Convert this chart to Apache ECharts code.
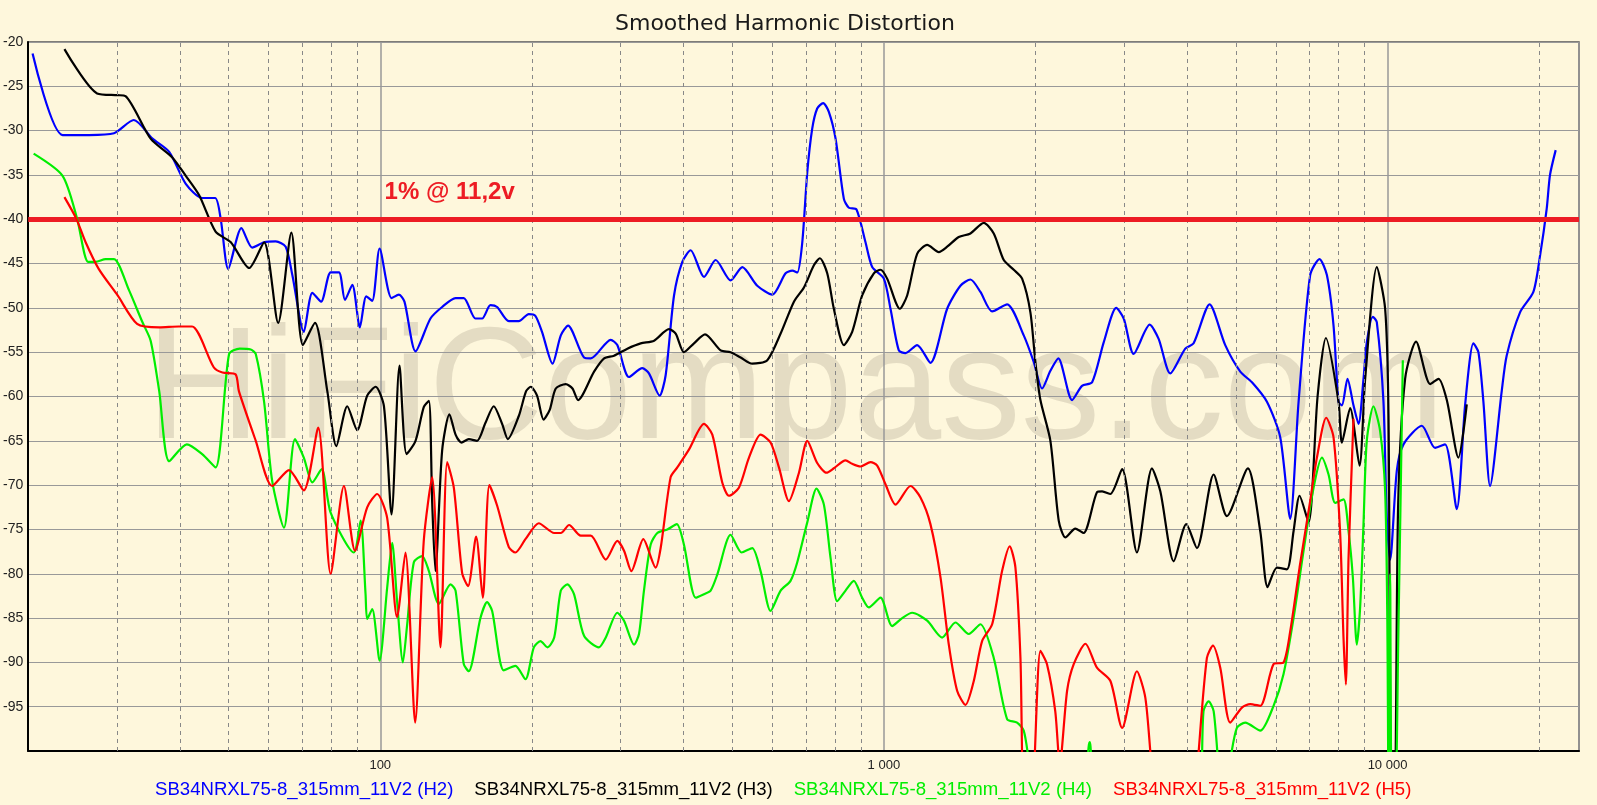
<!DOCTYPE html>
<html><head><meta charset="utf-8">
<script src="https://cdn.jsdelivr.net/npm/echarts@6/dist/echarts.min.js"></script>
<style>html,body{margin:0;padding:0;background:#FEF7DC}#c{width:1597px;height:805px}</style>
</head><body><div id="c"></div>
<script>
const titleText = 'Smoothed Harmonic Distortion';
const seriesNames = ['SB34NRXL75-8_315mm_11V2 (H2)','SB34NRXL75-8_315mm_11V2 (H3)','SB34NRXL75-8_315mm_11V2 (H4)','SB34NRXL75-8_315mm_11V2 (H5)'];
const limitDb = -40;
const limitLabel = '1% @ 11,2v';
const limitLabelFreq = 102;
const watermarkText = 'HiFiCompass.com';
const xTickLabels = {100:'100', 1000:'1 000', 10000:'10 000'};
const minorGridFreqs = [30,40,50,60,70,80,90,200,300,400,500,600,700,800,900,2000,3000,4000,5000,6000,7000,8000,9000,20000];

// [frequency Hz, level dB]
const h2 = [[20.4,-21.3],[23.4,-30.5],[26.4,-30.5],[29.6,-30.3],[32.4,-28.8],[35.3,-30.9],[38.1,-32.4],[41.1,-36.0],[44.3,-37.6],[47.0,-37.6],[48.2,-39.9],[49.9,-45.6],[53.0,-41.0],[55.7,-43.2],[58.8,-42.6],[62.0,-42.5],[64.9,-43.1],[66.9,-46.3],[70.5,-52.7],[73.3,-48.3],[76.3,-49.3],[79.7,-46.0],[82.8,-46.0],[85.1,-49.1],[88.0,-47.4],[91.1,-52.2],[93.8,-48.7],[96.4,-49.2],[99.7,-43.3],[105.3,-48.9],[108.9,-48.5],[111.7,-49.3],[117.5,-54.9],[125.8,-51.2],[132.7,-49.9],[141.1,-48.9],[146.5,-48.9],[154.5,-51.2],[159.3,-51.2],[165.5,-49.7],[170.6,-49.9],[180,-51.5],[188.4,-51.5],[197.2,-50.7],[203.2,-50.9],[209.5,-52.7],[219.8,-56.3],[228.3,-53.1],[236,-52.0],[253.9,-55.6],[261.8,-55.7],[286.8,-53.6],[295.6,-54.2],[311.8,-57.8],[331.4,-56.8],[341.6,-57.4],[358.7,-59.9],[368.7,-57.6],[383.1,-48.6],[397.9,-44.8],[413.3,-43.5],[439.3,-46.5],[463.5,-44.6],[496.2,-46.9],[523.5,-45.4],[560.5,-47.5],[600.5,-48.5],[638,-46.1],[657.8,-45.8],[673,-46.0],[688.6,-42.6],[704.5,-34.7],[720.5,-29.8],[737.2,-27.5],[757.6,-26.9],[777.8,-27.9],[801.8,-30.9],[832.8,-37.7],[852,-38.7],[882.3,-38.9],[919.4,-42.6],[948,-45.4],[999.8,-46.7],[1030.7,-50.1],[1070.7,-54.8],[1103.6,-55.1],[1164.2,-54.2],[1237.1,-56.2],[1335.4,-50.1],[1419,-47.5],[1485.4,-46.8],[1554.8,-48.2],[1640.4,-50.4],[1756.4,-49.6],[1895.3,-53.1],[1983.9,-56.1],[2061,-59.1],[2141,-57.1],[2220,-55.7],[2364,-60.4],[2474,-58.8],[2591,-58.4],[2732,-53.9],[2893,-50.0],[2994,-51.2],[3133,-55.2],[3371,-51.9],[3512,-53.5],[3704,-57.4],[3967,-54.6],[4121,-54.0],[4433,-49.6],[4762,-54.2],[5101,-57.2],[5381,-58.4],[5762,-60.6],[6123,-64.6],[6409,-73.8],[6659,-60.6],[7021,-46.3],[7328,-44.5],[7579,-46.3],[7813,-52.0],[7994,-60.6],[8117,-61.0],[8328,-58.0],[8559,-61.0],[8759,-63.1],[8960,-58.0],[9096,-53.9],[9350,-51.0],[9522,-51.6],[9816,-60.6],[9966,-73.7],[10122,-78.4],[10434,-68.4],[10757,-65.4],[11698,-63.3],[12429,-65.8],[13014,-65.4],[13724,-72.7],[14262,-60.9],[14809,-54.0],[15152,-55.0],[15503,-60.6],[15981,-70.1],[16857,-59.4],[17242,-55.4],[18329,-50.5],[19481,-48.2],[20086,-44.1],[20707,-38.8],[21021,-35.0],[21574,-32.2]];

const h3 = [[23.6,-20.8],[27.4,-25.8],[30.1,-26.0],[31.2,-26.1],[35.0,-30.9],[38.6,-33.0],[41.1,-35.1],[43.7,-37.3],[47.1,-41.4],[50.5,-42.6],[54.9,-45.5],[58.8,-42.6],[62.7,-51.7],[66.6,-41.5],[70.2,-54.2],[74.2,-51.7],[78.5,-59.4],[81.8,-65.6],[86.0,-61.1],[90.0,-63.8],[94.2,-59.9],[97.9,-58.9],[101.7,-61.1],[105.3,-73.3],[109.2,-56.5],[112.8,-66.5],[117.5,-65.0],[122.0,-61.2],[124.9,-60.5],[126.8,-72],[128.7,-79.7],[132.7,-66.1],[137.2,-62.0],[141.1,-64.3],[145,-65.2],[149.9,-64.8],[155.7,-65.0],[161.7,-63.0],[168,-61.1],[174.6,-63.1],[179.2,-64.8],[188.4,-62.2],[194.8,-59.4],[199,-58.9],[204.8,-59.9],[211,-62.6],[217,-61.5],[223.1,-59.1],[233.5,-58.6],[240.8,-59.1],[247.1,-60.4],[265.8,-57.2],[278.3,-55.7],[291.2,-55.4],[309.5,-54.6],[328.9,-54.0],[349.7,-53.7],[374.3,-52.4],[386,-52.9],[400.8,-55.0],[419.7,-54.0],[441.4,-53.0],[474.1,-54.8],[496.2,-55.0],[519.5,-55.6],[547.8,-56.3],[586.8,-55.9],[623.7,-52.9],[662.8,-49.3],[693.8,-47.7],[726.1,-45.2],[746.3,-44.4],[771.8,-46.1],[795.5,-50.1],[832.8,-54.2],[865.1,-52.7],[905.5,-48.6],[955.1,-46.1],[984.6,-45.7],[1015,-46.7],[1075.7,-50.1],[1112.3,-48.6],[1164.2,-43.9],[1219,-42.9],[1285.4,-43.7],[1335.4,-43.1],[1408.3,-42.0],[1485.4,-41.6],[1578.7,-40.4],[1652.5,-41.6],[1730,-44.6],[1810.8,-45.7],[1881.2,-46.7],[1953.9,-50.5],[1998.9,-56.1],[2045.5,-60.4],[2141,-65.0],[2224,-74.0],[2293,-75.9],[2400,-74.9],[2492,-75.4],[2649,-70.8],[2712,-70.7],[2817,-71.0],[2972,-68.2],[3180,-77.6],[3406,-68.1],[3539,-70.7],[3763,-78.6],[3985,-74.4],[4184,-77.1],[4516,-68.8],[4798,-73.5],[5282,-68.1],[5589,-75.2],[5780,-81.5],[6031,-79.3],[6313,-79.5],[6508,-75.2],[6689,-71.2],[6970,-74.2],[7263,-60.0],[7543,-53.4],[7994,-60.6],[8117,-65.2],[8430,-61.3],[8798,-67.8],[9029,-58.0],[9522,-45.4],[9892,-50.1],[10044,-62.0],[10180,-105],[10330,-105],[10500,-72.0],[10838,-58.0],[11395,-53.8],[12151,-58.6],[12623,-58.0],[13114,-60.4],[13829,-66.9],[14367,-60.9]];

const h4 = [[20.5,-32.6],[23.4,-35.1],[25.0,-39.9],[26.3,-44.8],[27.2,-44.8],[28.5,-44.5],[29.6,-44.5],[31.7,-48.0],[33.7,-51.6],[35.0,-53.7],[36.4,-59.4],[38.1,-67.3],[41.3,-65.4],[44.3,-66.5],[47.1,-68.0],[50.1,-55.2],[52.6,-54.6],[55.3,-54.7],[56.6,-55.2],[58.8,-60.6],[61.0,-69.5],[64.4,-74.8],[67.7,-64.8],[70.5,-66.9],[73.3,-69.7],[76.5,-68.2],[79.7,-73.1],[88.6,-77.6],[91.4,-74.0],[93.5,-82.3],[94.2,-85.1],[96.4,-84.0],[99.7,-89.8],[103.2,-81.6],[105.6,-76.5],[108,-83.1],[110.9,-90.0],[113.1,-85.7],[116.6,-78.7],[121.1,-78.0],[124.9,-79.7],[130.7,-83.4],[137.9,-81.2],[141.1,-81.9],[146.5,-90.2],[149.9,-91.0],[158.1,-85.0],[163,-83.2],[166.8,-84.2],[175.9,-90.9],[185.5,-90.4],[194.2,-91.9],[201.8,-88.3],[208,-87.6],[214.8,-88.3],[221.5,-87.2],[228.3,-81.9],[235.2,-81.2],[242.5,-82.3],[253.9,-87.0],[271.8,-88.3],[280.4,-87.2],[295.6,-84.4],[304.8,-85.3],[319.1,-88.0],[326.4,-86.8],[333.9,-81.9],[344.3,-76.7],[354.9,-75.4],[371.6,-75.0],[387.9,-74.4],[400.8,-76.7],[422.9,-82.7],[439.3,-82.3],[452.9,-81.9],[466.8,-80.1],[496.2,-75.6],[521.8,-77.6],[547.8,-77.1],[569.1,-79.7],[595.7,-84.2],[623.7,-81.9],[652.6,-80.8],[673,-78.7],[704.5,-74.2],[734.9,-70.4],[760.1,-72.2],[783.6,-78.2],[807.8,-83.1],[839.2,-81.9],[871.5,-80.8],[905.5,-82.7],[933.6,-83.8],[984.6,-82.7],[1038.6,-85.9],[1087.3,-85.0],[1138,-84.4],[1219,-85.3],[1305.2,-87.2],[1386.9,-85.5],[1474.1,-86.8],[1554.8,-85.7],[1652.5,-89.5],[1756.4,-96.4],[1838.5,-96.8],[1895.3,-97.7],[1939,-101],[2000,-106],[2450,-106],[2562,-99.0],[2680,-106],[4200,-106],[4312,-95.5],[4413,-94.4],[4516,-95.5],[4621,-102],[4700,-106],[4872,-101],[5022,-97.4],[5217,-96.8],[5589,-97.7],[5939,-94.9],[6217,-91.3],[6508,-85.0],[6813,-77.4],[7131,-70.3],[7409,-66.9],[7637,-68.8],[7873,-72.0],[8177,-71.6],[8368,-75.2],[8534,-80.4],[8690,-88.0],[8823,-83.8],[8960,-74.4],[9096,-65.0],[9376,-61.1],[9668,-63.9],[9892,-70.7],[9990,-85],[10050,-106],[10120,-80],[10200,-106],[10350,-106],[10500,-88],[10725,-55.9]];

const h5 = [[23.6,-37.5],[24.9,-39.9],[26.0,-42.6],[27.6,-45.6],[30.1,-48.6],[32.9,-51.8],[36.4,-52.2],[39.8,-52.1],[42.3,-52.1],[46.7,-56.7],[48.6,-57.3],[51.6,-57.5],[52.4,-59.4],[56.6,-65.0],[61.0,-70.1],[65.9,-68.3],[70.5,-70.6],[75.3,-63.5],[79.7,-80.0],[84.7,-70.1],[89.1,-77.4],[94.2,-72.5],[98.6,-71.0],[103.2,-73.7],[108,-84.9],[112.2,-77.6],[117.3,-96.8],[122,-76.3],[126.8,-69.1],[131.7,-88.3],[135.8,-67.4],[140,-70.3],[145.4,-79.9],[149.4,-81.4],[155,-75.8],[159.8,-82.7],[164.7,-70.0],[170.6,-72.3],[180,-77.0],[185.5,-77.6],[194.2,-76.1],[206.4,-74.3],[221.5,-75.4],[228.3,-75.4],[237.1,-74.5],[250,-75.7],[261.8,-75.7],[280.4,-78.4],[295.6,-76.3],[304.8,-77.4],[315.2,-79.7],[332.9,-76.1],[352.2,-79.3],[360.4,-77.1],[377.2,-69.1],[388.9,-68.0],[410.1,-66.0],[439.3,-63.1],[456.4,-64.3],[477.6,-69.7],[492.4,-71.2],[515.3,-70.3],[539.7,-66.9],[569.1,-64.3],[595.7,-65.2],[618.9,-68.0],[647.8,-71.8],[678.2,-68.6],[704.5,-65.0],[737.2,-67.5],[769.5,-68.6],[795.5,-68.1],[839.2,-67.2],[865.1,-67.6],[898.6,-67.9],[940.9,-67.4],[969.8,-67.8],[1007.3,-69.9],[1054.6,-72.2],[1129.4,-70.1],[1182.1,-71.4],[1237.1,-74.4],[1295.4,-80.4],[1345.6,-88.0],[1397.7,-93.2],[1452.1,-94.8],[1508.3,-92.1],[1566.8,-87.6],[1640.4,-85.7],[1716.6,-79.7],[1777.6,-76.9],[1824.7,-79.3],[1867,-89.5],[1900,-106],[1960,-106],[2045.5,-88.7],[2108,-90.2],[2189,-95.5],[2235,-101.5],[2311,-93.2],[2382,-90.2],[2513,-87.9],[2649,-90.6],[2817,-92.1],[2972,-97.4],[3180,-91.0],[3305,-94.0],[3406,-102],[3500,-106],[4150,-106],[4218,-100],[4379,-89.5],[4502,-88.1],[4655,-90.6],[4872,-96.8],[5139,-95.1],[5338,-94.7],[5589,-94.9],[5939,-90.2],[6217,-90.0],[6409,-86.5],[6689,-79.3],[7021,-71.8],[7241,-66.9],[7556,-62.4],[7813,-64.6],[8054,-75.5],[8177,-87.2],[8265,-92.5],[8368,-78.2],[8559,-62.5]];

const seriesData = [h2, h3, h4, h5];
const seriesColors = ['#0000FF', '#000000', '#00EE00', '#FF0000'];
const FONT = '"Liberation Sans", Arial, sans-serif';

const chart = echarts.init(document.getElementById('c'), null, {renderer: 'canvas'});
const option = {
  backgroundColor: '#FEF7DC',
  animation: false,
  title: {
    text: titleText, left: 610, top: 8,
    textStyle: {fontFamily: '"DejaVu Sans", sans-serif', fontSize: 22, fontWeight: 'normal', color: '#1a1a1a'}
  },
  legend: {
    left: 145, top: 775, icon: 'none', itemWidth: 0, itemHeight: 14, itemGap: 16,
    selectedMode: false,
    textStyle: {fontFamily: FONT, fontSize: 18.6, fontWeight: 'normal'},
    data: seriesNames.map((n, i) => ({name: n, textStyle: {color: seriesColors[i]}}))
  },
  grid: {left: 28, right: 18, top: 42, bottom: 54, show: true, borderColor: '#555', borderWidth: 1.5, backgroundColor: 'transparent'},
  xAxis: {
    type: 'log', logBase: 10, min: 20, max: 24000,
    axisLine: {show: true, onZero: false, lineStyle: {color: '#000', width: 2}},
    axisTick: {show: false},
    splitLine: {show: true, lineStyle: {color: '#999', width: 1.5}},
    axisLabel: {
      showMinLabel: false, showMaxLabel: false, margin: 8,
      fontFamily: FONT, fontSize: 13, color: '#222',
      formatter: v => xTickLabels[Math.round(v)] || ''
    }
  },
  yAxis: {
    type: 'value', min: -100, max: -20, interval: 5,
    axisLine: {show: true, lineStyle: {color: '#000', width: 2}},
    axisTick: {show: false},
    splitLine: {show: true, lineStyle: {color: '#999', width: 1.2}},
    axisLabel: {margin: 5, fontFamily: FONT, fontSize: 14, color: '#222', formatter: v => v === -100 ? '' : String(v)}
  },
  graphic: [{
    type: 'text', z: -10, silent: true, x: 146, y: 394,
    style: {text: watermarkText, font: '159px "Liberation Sans", Arial, sans-serif', fill: '#E4DCC3', verticalAlign: 'middle'}
  }],
  series: [
    {
      name: '_minorgrid', type: 'line', data: [], silent: true, z: 1,
      markLine: {
        silent: true, symbol: ['none', 'none'], label: {show: false},
        lineStyle: {color: '#888', width: 1, type: [4, 4]},
        emphasis: {disabled: true},
        data: minorGridFreqs.map(f => ({xAxis: f}))
      }
    },
    ...seriesData.map((d, i) => ({
      name: seriesNames[i], type: 'line', data: d, showSymbol: false, symbol: 'none',
      smooth: 0.25, clip: true, z: 3 + i,
      lineStyle: {color: seriesColors[i], width: 2.2},
      itemStyle: {color: seriesColors[i]},
      emphasis: {disabled: true}
    })),
    {
      name: '_limit', type: 'line', data: [], silent: true, z: 20,
      markLine: {
        silent: true, symbol: ['none', 'none'], label: {show: false},
        lineStyle: {color: '#ED1C24', width: 5, type: 'solid'},
        emphasis: {disabled: true},
        data: [{yAxis: limitDb}]
      }
    }
  ]
};
chart.setOption(option);
const p = chart.convertToPixel({xAxisIndex: 0, yAxisIndex: 0}, [limitLabelFreq, limitDb]);
chart.setOption({graphic: [
  option.graphic[0],
  {type: 'text', z: 30, silent: true, x: p[0], y: p[1] - 27,
   style: {text: limitLabel, font: 'bold 24px "Liberation Sans", Arial, sans-serif', fill: '#ED1C24', verticalAlign: 'middle'}}
]});
</script></body></html>
